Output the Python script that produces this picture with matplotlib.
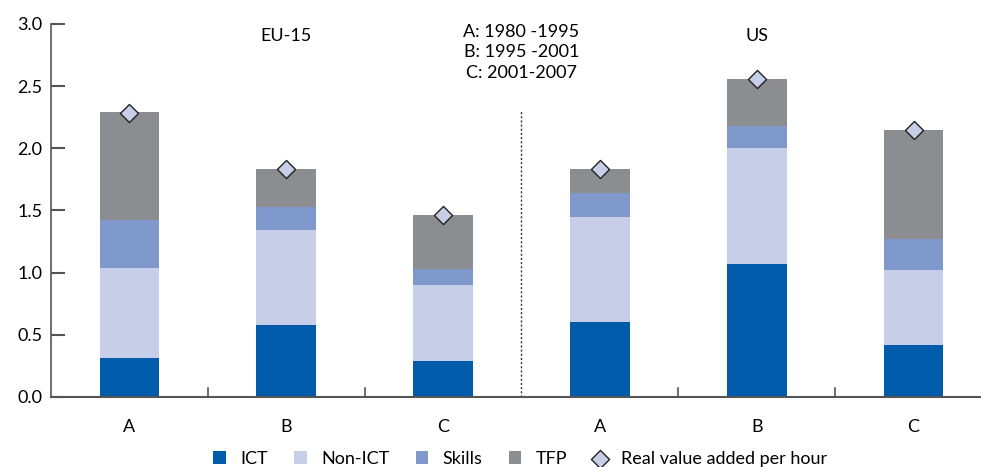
import matplotlib

matplotlib.use("Agg")
import matplotlib.pyplot as plt
import numpy as np

plt.rcParams.update({
    "font.family": ["Lato", "DejaVu Sans"],
    "font.size": 13,
    "figure.dpi": 100,
})

# ---- data -----------------------------------------------------------------
periods = ["A", "B", "C", "A", "B", "C"]
ict = [0.31, 0.58, 0.29, 0.60, 1.07, 0.42]
non_ict = [0.73, 0.76, 0.61, 0.85, 0.93, 0.60]
skills = [0.38, 0.19, 0.13, 0.19, 0.18, 0.25]
tfp = [0.87, 0.30, 0.43, 0.19, 0.38, 0.88]
rvah = [2.28, 1.83, 1.46, 1.83, 2.56, 2.15]
groups = ["EU-15", "US"]
legend_labels = ["ICT", "Non-ICT", "Skills", "TFP", "Real value added per hour"]
period_note = "A: 1980 -1995\nB: 1995 -2001\nC: 2001-2007"

ICT_C = "#005BAA"
NONICT_C = "#C6CEE8"
SKILLS_C = "#8099CC"
TFP_C = "#8C8D91"
AXIS_C = "#555555"

x = np.arange(len(periods))
fig = plt.figure(figsize=(9.81, 4.67))
ax = fig.add_axes([0.052, 0.15, 0.948, 0.799])

bottom = np.zeros(len(x))
handles = []
for vals, col in [(ict, ICT_C), (non_ict, NONICT_C), (skills, SKILLS_C), (tfp, TFP_C)]:
    h = ax.bar(x, vals, 0.38, bottom=bottom, color=col, linewidth=0, zorder=2)
    handles.append(h)
    bottom += np.array(vals)
d = ax.scatter(x, rvah, marker="D", s=85, facecolor=NONICT_C, edgecolor="#222222",
               linewidth=1.0, zorder=3)
handles.append(d)

ax.set_xlim(-0.5, 5.43)
ax.set_ylim(0, 3.0)
ax.set_yticks(np.arange(0, 3.01, 0.5))
ax.set_yticklabels([f"{v:.1f}" for v in np.arange(0, 3.01, 0.5)])
ax.set_xticks(x)
ax.set_xticklabels(periods)
ax.tick_params(axis="x", length=0, pad=16)
ax.tick_params(axis="y", direction="in", length=10, width=1.5, color=AXIS_C, pad=6)
# category separators as inward ticks
for b in [0.5, 1.5, 3.5, 4.5]:
    ax.plot([b, b], [0, 0.07], color=AXIS_C, lw=1.2, zorder=1, clip_on=False)

for s in ["top", "right"]:
    ax.spines[s].set_visible(False)
ax.spines["left"].set_color(AXIS_C)
ax.spines["bottom"].set_color(AXIS_C)
ax.spines["left"].set_linewidth(1.2)
ax.spines["bottom"].set_linewidth(1.5)

ax.plot([2.5, 2.5], [0, 2.3], color="#333333", lw=1, ls=(0, (1.5, 1.5)), zorder=1)

ax.text(1.0, 2.97, groups[0], ha="center", va="top")
ax.text(4.0, 2.97, groups[1], ha="center", va="top")
ax.text(2.5, 3.0, period_note, ha="center", va="top", linespacing=1.35)

fig.legend(handles, legend_labels, loc="lower center", bbox_to_anchor=(0.53, -0.035),
           ncol=5, frameon=False, handlelength=0.7, handleheight=0.7,
           handletextpad=0.8, columnspacing=1.45)

fig.savefig("out.png", dpi=100)
